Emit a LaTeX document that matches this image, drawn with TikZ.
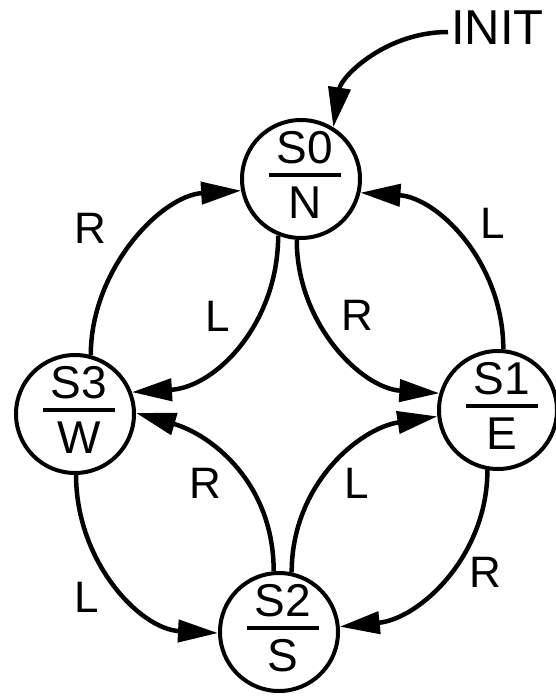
\documentclass[tikz,border=0pt]{standalone}
\usepackage{fontspec}
\setmainfont{Liberation Sans}
\usetikzlibrary{arrows.meta,calc}
\begin{document}
\begin{tikzpicture}[x=1pt,y=-1pt,
  state/.style={circle,draw,line width=4pt,minimum size=118pt,inner sep=0pt},
  edge/.style={line width=4.5pt,-{Triangle[length=40pt,width=22pt]}},
  lbl/.style={font=\fontsize{44}{44}\selectfont,inner sep=0pt},
  stxt/.style={font=\fontsize{46}{46}\selectfont,inner sep=0pt},
  bar/.style={line width=4pt}]
\useasboundingbox (0,0) rectangle (555,696);
% states
\node[state] (s0) at (301,179) {};
\node[state] (s3) at (75,414) {};
\node[state] (s1) at (498,410) {};
\node[state] (s2) at (279,632) {};
% state texts
\node[stxt] (s0a) at ($(s0)+(4,-31)$) {S0};
\node[stxt] (s0b) at ($(s0)+(4,24)$) {N};
\draw[bar] ($(s0)+(-32,-4)$) -- ($(s0)+(40,-4)$);
\node[stxt] (s3a) at ($(s3)+(4,-31)$) {S3};
\node[stxt] (s3b) at ($(s3)+(4,24)$) {W};
\draw[bar] ($(s3)+(-32,-4)$) -- ($(s3)+(40,-4)$);
\node[stxt] (s1a) at ($(s1)+(4,-31)$) {S1};
\node[stxt] (s1b) at ($(s1)+(4,24)$) {E};
\draw[bar] ($(s1)+(-32,-4)$) -- ($(s1)+(40,-4)$);
\node[stxt] (s2a) at ($(s2)+(4,-31)$) {S2};
\node[stxt] (s2b) at ($(s2)+(4,24)$) {S};
\draw[bar] ($(s2)+(-32,-4)$) -- ($(s2)+(40,-4)$);
% init
\node[font=\fontsize{49}{49}\selectfont,inner sep=0pt,anchor=west] (init) at (451,28) {INIT};
\coordinate (initstart) at (448,32);
\draw[edge] (initstart) .. controls +(-62,0) and +(8,-51) .. (s0.58);
% edges
\draw[edge] (s3.75) .. controls +(0,-86) and +(-80,5) .. (s0.191);
\draw[edge] (s1.85) .. controls +(0,-86) and +(78,5) .. (s0.347);
\draw[edge] (s0.248) .. controls +(0,88) and +(84,-5) .. (s3.21);
\draw[edge] (s0.266) .. controls +(0,84) and +(-78,-5) .. (s1.164);
\draw[edge] (s2.95) .. controls +(0,-88) and +(76,22) .. (s3.1);
\draw[edge] (s2.78) .. controls +(0,-88) and +(-78,12) .. (s1.186);
\draw[edge] (s3.271) .. controls +(0,87) and +(-78,-4) .. (s2.181);
\draw[edge] (s1.260) .. controls +(0,86) and +(80,-8) .. (s2.5);
% labels
\node[lbl] (l1) at (90,228) {R};
\node[lbl] (l2) at (493,223) {L};
\node[lbl] (l3) at (218,316) {L};
\node[lbl] (l4) at (357,315) {R};
\node[lbl] (l5) at (205,483) {R};
\node[lbl] (l6) at (357,483) {L};
\node[lbl] (l7) at (87,597) {L};
\node[lbl] (l8) at (485,572) {R};
\end{tikzpicture}
\end{document}
